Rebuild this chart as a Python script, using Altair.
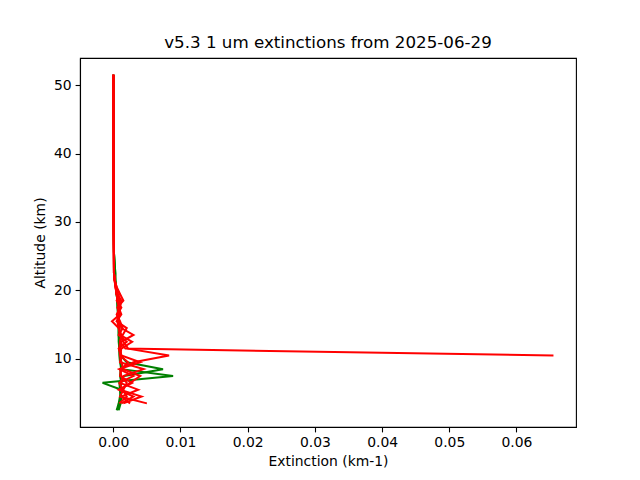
import altair as alt
import pandas as pd

# Altitude grid (km)
ALT = [2.5, 3.5, 4.5, 5.5, 6.5, 7.5, 8.5, 9.5, 10.5, 11.5, 12.5, 13.5, 14.5,
       15.5, 16.5, 17.5, 18.5, 19.5, 20.5, 21.5, 22.5, 25.5, 30.5, 40.5, 51.5]

N = None
# Green profiles (extinction, km-1)
G1 = [0.0005, 0.0008, 0.0010, 0.0012, -0.0016, 0.0089, 0.0012, 0.0010, 0.0009, 0.0009,
      0.0008, 0.0008, 0.0008, 0.0007, 0.0007, 0.0006, 0.0006, 0.0005, 0.0004, 0.0003,
      0.0003, 0.0001, 0.00005, 0.00003, 0.00002]
G2 = [0.0008, 0.0011, 0.0012, 0.0010, 0.0009, 0.0016, 0.0074, 0.0020, 0.0011, 0.0010,
      0.0010, 0.0009, 0.0009, 0.0008, 0.0008, 0.0007, 0.0006, 0.0005, 0.0004, 0.0003,
      0.0003, 0.0001, 0.00005, 0.00003, 0.00002]
G3 = [0.0006, 0.0009, 0.0011, 0.0010, 0.0012, 0.0010, 0.0011, 0.0012, 0.0010, 0.0009,
      0.0009, 0.0008, 0.0008, 0.0008, 0.0007, 0.0007, 0.0006, 0.0005, 0.0004, 0.0003,
      0.0002, 0.0001, 0.00005, 0.00003, 0.00002]
# Red profiles
R1 = [N, N, N, N, N, N, N, N, 0.0655, 0.0018,
      0.0010, 0.0012, 0.0008, 0.0006, 0.0007, 0.0008, 0.0006, 0.0005, 0.0003, 0.0002,
      0.0001, 0.00008, 0.00004, 0.00002, 0.00001]
R2 = [N, 0.0050, 0.0010, 0.0015, 0.0020, 0.0012, 0.0010, 0.0030, 0.0083, 0.0022,
      0.0015, 0.0010, 0.0009, 0.0008, 0.0009, 0.0010, 0.0008, 0.0006, 0.0004, 0.0002,
      0.0001, 0.00008, 0.00004, 0.00002, 0.00001]
R3 = [N, 0.0015, 0.0042, 0.0010, 0.0025, 0.0040, 0.0015, 0.0012, 0.0010, 0.0012,
      0.0028, 0.0010, 0.0008, -0.0002, 0.0010, 0.0006, 0.0015, 0.0010, 0.0005, 0.0002,
      0.0001, 0.00008, 0.00004, 0.00002, 0.00001]
R4 = [N, 0.0025, 0.0012, 0.0037, 0.0010, 0.0015, 0.0045, 0.0010, 0.0012, 0.0010,
      0.0012, 0.0030, 0.0012, 0.0009, 0.0006, 0.0012, 0.0005, 0.0009, 0.0004, 0.0002,
      0.0001, 0.00008, 0.00004, 0.00002, 0.00001]
R5 = [N, 0.0012, 0.0030, 0.0008, 0.0028, 0.0010, 0.0012, 0.0022, 0.0010, 0.0009,
      0.0010, 0.0014, 0.0020, 0.0005, 0.0012, 0.0008, 0.0010, 0.0004, 0.0005, 0.0002,
      0.0001, 0.00008, 0.00004, 0.00002, 0.00001]
R6 = [N, 0.0009, 0.0020, 0.0014, 0.0009, 0.0030, 0.0009, 0.0040, 0.0012, 0.0008,
      0.0020, 0.0008, 0.0014, 0.0010, 0.0005, 0.0010, 0.0012, 0.0006, 0.0003, 0.0002,
      0.0001, 0.00008, 0.00004, 0.00002, 0.00001]

GREEN = {"G1": G1, "G2": G2, "G3": G3}
RED = {"R1": R1, "R2": R2, "R3": R3, "R4": R4, "R5": R5, "R6": R6}

X_TICKS = [0.0, 0.01, 0.02, 0.03, 0.04, 0.05, 0.06]
Y_TICKS = [10, 20, 30, 40, 50]
TITLE = "v5.3 1 um extinctions from 2025-06-29"


def frame(profiles):
    rows = []
    for name, vals in profiles.items():
        for a, v in zip(ALT, vals):
            if v is not None:
                rows.append({"profile": name, "alt": a, "ext": v})
    return pd.DataFrame(rows)


dg = frame(GREEN)
dr = frame(RED)
allv = pd.concat([dg, dr])
xmin, xmax = allv["ext"].min(), allv["ext"].max()
ymin, ymax = allv["alt"].min(), allv["alt"].max()
xr, yr = xmax - xmin, ymax - ymin
xdom = [xmin - 0.05 * xr, xmax + 0.05 * xr]
ydom = [ymin - 0.05 * yr, ymax + 0.05 * yr]

FONT = "DejaVu Sans"

xenc = alt.X("ext:Q", scale=alt.Scale(domain=xdom, nice=False, zero=False),
             axis=alt.Axis(values=X_TICKS, format=".2f", title="Extinction (km-1)"))
yenc = alt.Y("alt:Q", scale=alt.Scale(domain=ydom, nice=False, zero=False),
             axis=alt.Axis(values=Y_TICKS, format="d", title="Altitude (km)"))


def lines(df, color):
    return alt.Chart(df).mark_line(color=color, strokeWidth=2, clip=True).encode(
        x=xenc, y=yenc, detail="profile:N", order="alt:Q"
    )


chart = alt.layer(lines(dg, "green"), lines(dr, "red")).properties(
    width=496,
    height=369,
    padding={"left": 72, "top": 50, "right": 56, "bottom": 45},
    autosize=alt.AutoSizeParams(type="none"),
    title=alt.TitleParams(TITLE, font=FONT, fontSize=16.7, fontWeight="normal",
                          color="black", anchor="middle", offset=8,
                          baseline="alphabetic", dy=15),
).configure_view(
    stroke="black", strokeWidth=1.1
).configure_axis(
    grid=False, labelFont=FONT, titleFont=FONT, labelFontSize=13.9,
    titleFontSize=13.9, titleFontWeight="normal", labelColor="black",
    titleColor="black", tickColor="black", domainColor="black",
    tickSize=4.9, tickWidth=1.1, domainWidth=1.1, labelPadding=4,
).configure_axisX(
    titlePadding=5
).configure_axisY(
    titlePadding=6
)

chart.save("out.html", embed_options={"renderer": "svg", "actions": False})
